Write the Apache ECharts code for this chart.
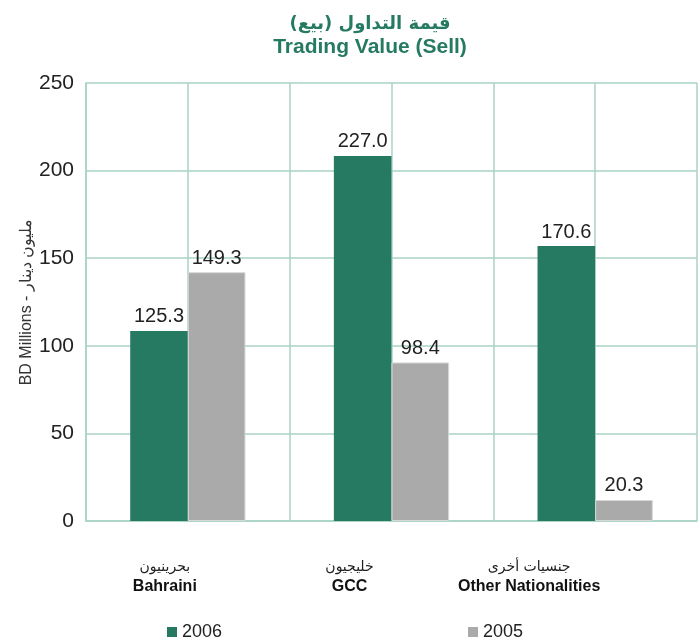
<!DOCTYPE html>
<html>
<head>
<meta charset="utf-8">
<script src="https://cdn.jsdelivr.net/npm/echarts@6/dist/echarts.min.js"></script>
<style>
html,body{margin:0;padding:0;background:#fff;}
#chart{width:699px;height:643px;}
</style>
</head>
<body>
<div id="chart"></div>
<script>
// Categories (Arabic / English)
const categoriesAr = ['بحرينيون', 'خليجيون', 'جنسيات أخرى'];
const categoriesEn = ['Bahraini', 'GCC', 'Other Nationalities'];
// Bar heights as drawn in the reference picture
const values2006 = [108.5, 208.4, 156.9];
const values2005 = [142.0, 90.5, 12.0];
// Value labels printed above the bars
const labels2006 = ['125.3', '227.0', '170.6'];
const labels2005 = ['149.3', '98.4', '20.3'];
const yTicks = [0, 50, 100, 150, 200, 250];

const GREEN = '#277a62';
const GRAY = '#aaaaaa';
const GRID = '#a9d3c5';

const labelShift = [46, 84, 132];
const rich = {};
categoriesEn.forEach((c, i) => {
  rich['a' + i] = {fontSize: 14, fontFamily: 'DejaVu Sans', color: '#222', lineHeight: 19, padding: [0, labelShift[i], 0, 0]};
  rich['b' + i] = {fontSize: 16, fontWeight: 'bold', fontFamily: 'Liberation Sans', color: '#111', lineHeight: 20, padding: [0, labelShift[i], 0, 0]};
});

const chart = echarts.init(document.getElementById('chart'));
chart.setOption({
  animation: false,
  title: {
    text: '{ar|قيمة التداول (بيع)}\n{en|Trading Value (Sell)}',
    left: 365,
    textAlign: 'center',
    top: 8,
    textStyle: {
      rich: {
        ar: {fontSize: 18, fontWeight: 'bold', color: GREEN, lineHeight: 23, fontFamily: 'DejaVu Sans', align: 'center'},
        en: {fontSize: 21, fontWeight: 'bold', color: GREEN, lineHeight: 23, fontFamily: 'Liberation Sans', align: 'center'}
      }
    }
  },
  legend: [
    {data: ['2006'], left: 162, top: 618, icon: 'rect', itemWidth: 10, itemHeight: 10, itemGap: 6,
     itemStyle: {borderWidth: 0},
     textStyle: {fontSize: 18, color: '#222', fontFamily: 'Liberation Sans'}},
    {data: ['2005'], left: 463, top: 618, icon: 'rect', itemWidth: 10, itemHeight: 10, itemGap: 6,
     itemStyle: {borderWidth: 0},
     textStyle: {fontSize: 18, color: '#222', fontFamily: 'Liberation Sans'}}
  ],
  grid: {left: 86, right: 2, top: 83, bottom: 122, containLabel: false, outerBoundsMode: 'none'},
  xAxis: [
    {
      type: 'category',
      data: categoriesEn,
      axisLine: {show: true, lineStyle: {color: GRID, width: 1.5}},
      axisTick: {show: false},
      splitLine: {show: false},
      axisLabel: {
        interval: 0,
        margin: 37,
        formatter: (v, i) => '{a' + i + '|' + categoriesAr[i] + '}\n{b' + i + '|' + v + '}',
        rich: rich
      }
    },
    {
      type: 'category',
      position: 'top',
      data: ['', '', '', '', '', ''],
      axisLine: {show: false},
      axisTick: {show: false},
      axisLabel: {show: false, interval: 0},
      splitLine: {show: true, interval: 0, lineStyle: {color: GRID, width: 1.5}}
    }
  ],
  yAxis: {
    type: 'value',
    min: yTicks[0],
    max: yTicks[yTicks.length - 1],
    interval: 50,
    name: 'BD Millions - مليون دينار',
    nameLocation: 'middle',
    nameGap: 51,
    nameMoveOverlap: false,
    nameTextStyle: {fontSize: 16, color: '#333', fontFamily: 'Liberation Sans'},
    axisLine: {show: true, lineStyle: {color: GRID, width: 1.5}},
    axisTick: {show: false},
    splitLine: {show: true, lineStyle: {color: GRID, width: 1.5}},
    axisLabel: {fontSize: 21, color: '#222', margin: 12, fontFamily: 'Liberation Sans'}
  },
  series: [
    {
      name: '2006', type: 'bar', data: values2006, xAxisIndex: 0,
      barGap: '0%', barCategoryGap: '43.4%',
      itemStyle: {color: GREEN},
      label: {show: true, position: 'top', distance: 4, fontSize: 20, color: '#222', fontFamily: 'Liberation Sans',
              formatter: p => labels2006[p.dataIndex]}
    },
    {
      name: '2005', type: 'bar', data: values2005, xAxisIndex: 0,
      barGap: '0%', barCategoryGap: '43.4%',
      itemStyle: {color: GRAY, borderColor: '#d8d8d8', borderWidth: 1},
      label: {show: true, position: 'top', distance: 4, fontSize: 20, color: '#222', fontFamily: 'Liberation Sans',
              formatter: p => labels2005[p.dataIndex]}
    }
  ]
});
</script>
</body>
</html>
